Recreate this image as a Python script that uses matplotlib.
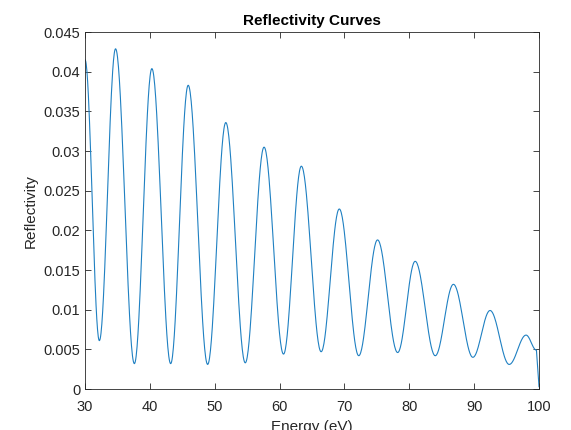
import numpy as np
import matplotlib.pyplot as plt

# extrema (energy in eV, reflectivity)
energy_pts = [30.0, 32.2, 34.7, 37.6, 40.3, 43.2, 45.9, 48.9, 51.7, 54.7,
              57.6, 60.6, 63.35, 66.4, 69.2, 72.2, 75.1, 78.2, 80.9, 84.0,
              86.8, 89.8, 92.45, 95.4, 98.0, 99.6, 100.0]
refl_pts = [0.0415, 0.0061, 0.0429, 0.0032, 0.0404, 0.0032, 0.0383, 0.0031,
            0.0336, 0.0033, 0.0305, 0.0044, 0.0281, 0.0047, 0.0227, 0.0042,
            0.0188, 0.0046, 0.0161, 0.0042, 0.0132, 0.0040, 0.0099, 0.0031,
            0.0068, 0.0049, 0.0003]

xticks = [30, 40, 50, 60, 70, 80, 90, 100]
yticks = [0, 0.005, 0.01, 0.015, 0.02, 0.025, 0.03, 0.035, 0.04, 0.045]
ytick_labels = ['0', '0.005', '0.01', '0.015', '0.02', '0.025', '0.03',
                '0.035', '0.04', '0.045']

# smooth half-cosine segments between neighbouring extrema
xs, ys = [], []
for i in range(len(energy_pts) - 1):
    x0, x1 = energy_pts[i], energy_pts[i + 1]
    y0, y1 = refl_pts[i], refl_pts[i + 1]
    t = np.linspace(0, 1, 40)
    if i == len(energy_pts) - 2:
        w = t
    else:
        w = (1 - np.cos(np.pi * t)) / 2
    xs.extend(x0 + (x1 - x0) * t)
    ys.extend(y0 + (y1 - y0) * w)

plt.rcParams['font.family'] = ['Liberation Sans', 'DejaVu Sans']

fig = plt.figure(figsize=(5.71, 4.30), dpi=100)
ax = fig.add_axes([0.149, 0.0953, 0.795, 0.830])
ax.plot(xs, ys, color='#1f80c2', linewidth=0.8)

ax.set_xlim(30, 100)
ax.set_ylim(0, 0.045)
ax.set_xticks(xticks)
ax.set_yticks(yticks)
ax.set_yticklabels(ytick_labels)
ax.tick_params(direction='in', top=True, right=True, length=4, width=0.6,
               colors='#262626', labelsize=10.5, labelcolor='#262626')
ax.tick_params(axis='x', pad=8)
for s in ax.spines.values():
    s.set_color('#262626')
    s.set_linewidth(0.6)

ax.set_title('Reflectivity Curves', fontsize=11, fontweight='bold', pad=5)
ax.set_xlabel('Energy (eV)', fontsize=11, color='#262626', labelpad=4)
ax.set_ylabel('Reflectivity', fontsize=11, color='#262626', labelpad=4)

fig.savefig('out.png', dpi=100)
